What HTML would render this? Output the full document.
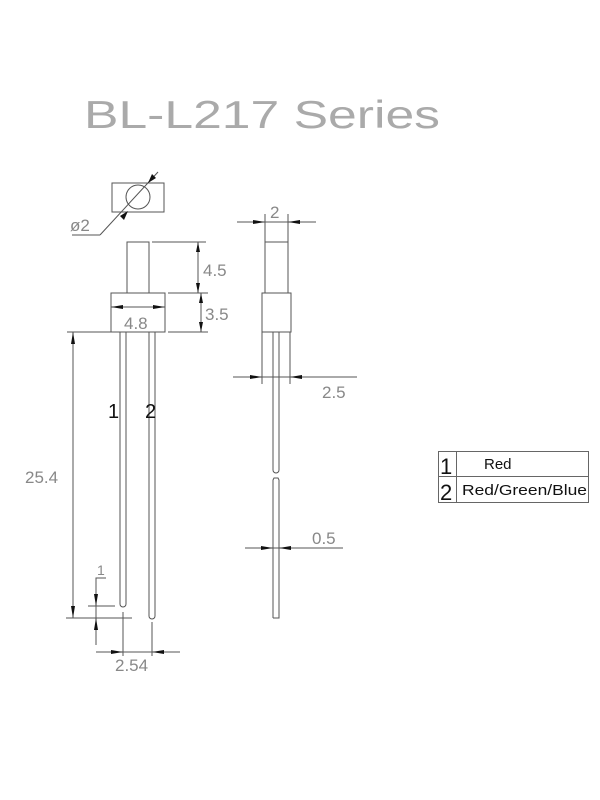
<!DOCTYPE html>
<html><head><meta charset="utf-8"><style>html,body{margin:0;padding:0;background:#fff}svg{display:block}</style></head>
<body>
<svg width="600" height="800" viewBox="0 0 600 800" xmlns="http://www.w3.org/2000/svg">
<text x="84" y="128" font-family="Liberation Sans, sans-serif" font-size="39" fill="#aaa" textLength="356" lengthAdjust="spacingAndGlyphs">BL-L217 Series</text>
<g stroke="#555" stroke-width="1" fill="none">
<rect x="112" y="183" width="52" height="29"/>
<circle cx="138" cy="197" r="12"/>
<line x1="158" y1="172" x2="100" y2="235"/>
<line x1="100" y1="235" x2="72" y2="235"/>
<rect x="127" y="242" width="22" height="51"/>
<rect x="111" y="293" width="54" height="39"/>
<line x1="152" y1="242" x2="206" y2="242"/>
<line x1="168" y1="293" x2="208" y2="293"/>
<line x1="168" y1="332" x2="208" y2="332"/>
<line x1="67" y1="332" x2="111" y2="332"/>
<path d="M120,332V604a3,3 0 0 0 6,0V332"/>
<path d="M149,332V616a3,3 0 0 0 6,0V332"/>
<line x1="66" y1="618" x2="132" y2="618"/>
<line x1="88" y1="606" x2="115" y2="606"/>
<polyline points="96,645 96,578 106,578"/>
<line x1="123" y1="612" x2="123" y2="656"/>
<line x1="152" y1="622" x2="152" y2="656"/>
<rect x="265" y="242" width="23" height="51"/>
<rect x="262" y="293" width="29" height="39"/>
<line x1="265" y1="214" x2="265" y2="242"/>
<line x1="288" y1="214" x2="288" y2="242"/>
<line x1="262" y1="332" x2="262" y2="384"/>
<line x1="290" y1="332" x2="290" y2="384"/>
<path d="M273,332V470a3,3 0 0 0 6,0V332"/>
<path d="M273,618V480l1,-2h4l1,2V618h-6"/>
<line x1="198" y1="242" x2="198" y2="293"/>
<line x1="201" y1="293" x2="201" y2="332"/>
<line x1="111" y1="307" x2="165" y2="307"/>
<line x1="73" y1="332" x2="73" y2="618"/>
<line x1="96" y1="590" x2="96" y2="606"/>
<line x1="96" y1="652" x2="180" y2="652"/>
<line x1="237" y1="222" x2="316" y2="222"/>
<line x1="233" y1="377" x2="357" y2="377"/>
<line x1="245" y1="548" x2="343" y2="548"/>
</g>
<g fill="#111">
<!-- diameter arrows -->
<polygon points="148,183 152,174 156,178"/>
<polygon points="128,211 124,220 120,216"/>
<!-- 4.5 -->
<polygon points="198,242 196,252 200,252"/>
<polygon points="198,293 196,283 200,283"/>
<!-- 3.5 -->
<polygon points="201,293 199,303 203,303"/>
<polygon points="201,332 199,322 203,322"/>
<!-- 4.8 -->
<polygon points="111,307 123,305 123,309"/>
<polygon points="165,307 153,305 153,309"/>
<!-- 25.4 -->
<polygon points="73,332 71,344 75,344"/>
<polygon points="73,618 71,606 75,606"/>
<!-- 1 -->
<polygon points="96,606 94,594 98,594"/>
<polygon points="96,618 94,630 98,630"/>
<!-- 2.54 -->
<polygon points="123,652 111,650 111,654"/>
<polygon points="152,652 164,650 164,654"/>
<!-- side 2 -->
<polygon points="265,222 253,220 253,224"/>
<polygon points="288,222 300,220 300,224"/>
<!-- 2.5 -->
<polygon points="262,377 250,375 250,379"/>
<polygon points="290,377 302,375 302,379"/>
<!-- 0.5 -->
<polygon points="273,548 261,546 261,550"/>
<polygon points="279,548 291,546 291,550"/>
</g>
<g font-family="Liberation Sans, sans-serif" fill="#888" font-size="17">
<text x="70" y="231">ø2</text>
<text x="203" y="276">4.5</text>
<text x="205" y="320">3.5</text>
<text x="124" y="329">4.8</text>
<text x="25" y="483">25.4</text>
<text x="97" y="575" font-size="14">1</text>
<text x="115" y="671">2.54</text>
<text x="270" y="218">2</text>
<text x="322" y="398">2.5</text>
<text x="312" y="544">0.5</text>
</g>
<g font-family="Liberation Sans, sans-serif" fill="#111">
<text x="108" y="418" font-size="20">1</text>
<text x="145" y="418" font-size="20">2</text>
</g>
<g stroke="#666" stroke-width="1" fill="none">
<rect x="438.5" y="451.5" width="150" height="51"/>
<line x1="438" y1="476.5" x2="588" y2="476.5"/>
<line x1="456.5" y1="451" x2="456.5" y2="502"/>
</g>
<g font-family="Liberation Sans, sans-serif" fill="#111">
<text x="440" y="474" font-size="22">1</text>
<text x="440" y="500" font-size="22">2</text>
<text x="484" y="469" font-size="15">Red</text>
<text x="462" y="495" font-size="15" textLength="125" lengthAdjust="spacingAndGlyphs">Red/Green/Blue</text>
</g>
</svg>
</body></html>
